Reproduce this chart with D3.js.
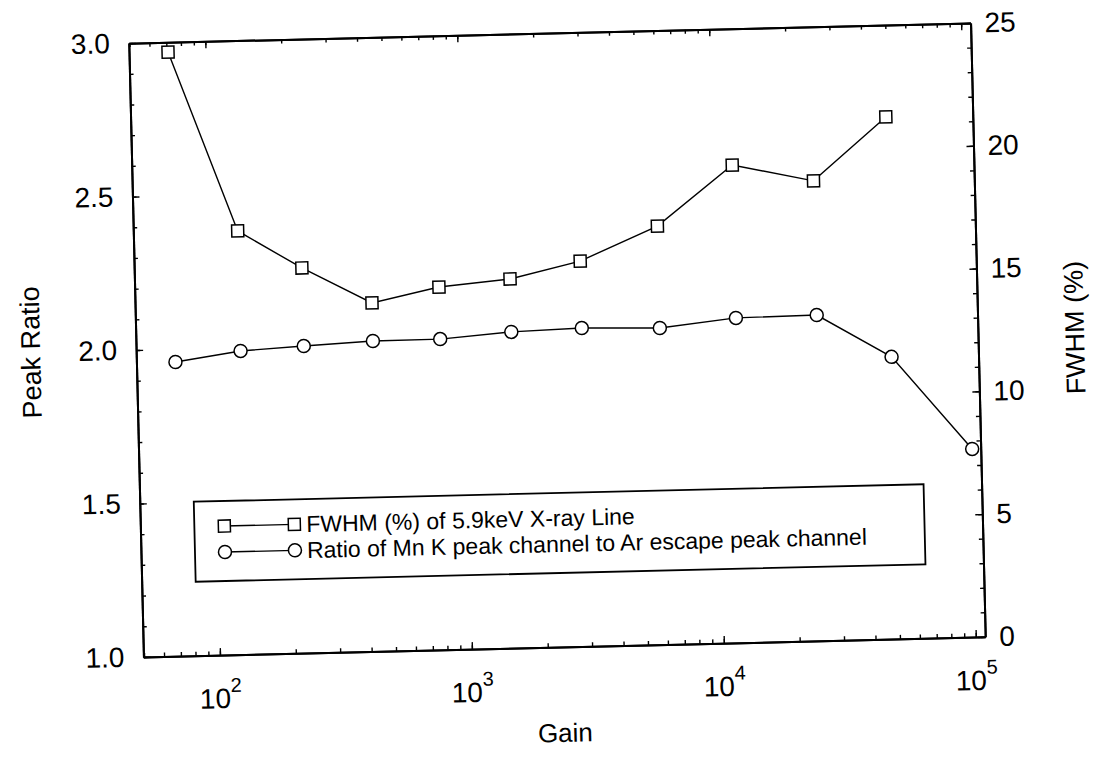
<!DOCTYPE html>
<meta charset="utf-8">
<style>
body { margin: 0; background: #fff; }
text { font-family: "Liberation Sans", Arial, sans-serif; fill: #000; }
.axis path, .axis line { stroke: #000; }
.axis path { stroke-width: 2px; }
.axis line { stroke-width: 1.4px; }
.series { fill: none; stroke: #000; stroke-width: 1.4px; }
.mark { fill: #fff; stroke: #000; stroke-width: 1.5px; }
</style>
<body>
<script src="https://d3js.org/d3.v7.min.js"></script>
<script>
// values
var gain  = [71, 129, 230, 433, 801, 1536, 2927, 5970, 11985, 25090, 49260, 100800];
var fwhm  = [24.6, 17.25, 15.68, 14.19, 14.77, 15.03, 15.69, 17.04, 19.45, 18.73, 21.26];
var ratio = [1.958, 1.989, 2.000, 2.011, 2.012, 2.030, 2.037, 2.031, 2.058, 2.061, 1.919, 1.613];

var decades     = [100, 1000, 10000, 100000];
var decadeExp   = ["2", "3", "4", "5"];
var ratioTicks  = [1.0, 1.5, 2.0, 2.5, 3.0];
var fwhmTicks   = [0, 5, 10, 15, 20, 25];

var legendLabels = ["FWHM (%) of 5.9keV X-ray Line", "Ratio of Mn K peak channel to Ar escape peak channel"];

var pLeft = 136, pRight = 978, pTop = 33, pBottom = 647;

var svg = d3.select("body").append("svg")
    .attr("width", 1099)
    .attr("height", 772);

// the scanned figure is slightly tilted
var g = svg.append("g").attr("transform", "rotate(-1.37,557,340)");

var x = d3.scaleLog().domain([49.7, 109000]).range([pLeft, pRight]);
var yL = d3.scaleLinear().domain([1, 3]).range([pBottom, pTop]);
var yR = d3.scaleLinear().domain([0, 25]).range([pBottom, pTop]);

// minor log ticks 2..9 per decade
var minorX = [];
for (var e = 1; e < 6; e++) {
  for (var m = 1; m < 10; m++) {
    var v = m * Math.pow(10, e);
    if (v >= x.domain()[0] && v <= x.domain()[1]) minorX.push(v);
  }
}
var minorL = d3.range(10, 31).map(function(d) { return d / 10; });
var minorR = d3.range(0, 26);

// x axes, bottom and top, ticks inward
g.append("g").attr("class", "axis")
  .attr("transform", "translate(0," + pBottom + ")")
  .call(d3.axisBottom(x).tickValues(minorX).tickSize(-4).tickSizeOuter(0).tickFormat(""));
g.append("g").attr("class", "axis")
  .attr("transform", "translate(0," + pBottom + ")")
  .call(d3.axisBottom(x).tickValues(decades).tickSize(-7).tickSizeOuter(0).tickFormat(""));
g.append("g").attr("class", "axis")
  .attr("transform", "translate(0," + pTop + ")")
  .call(d3.axisTop(x).tickValues(minorX).tickSize(-4).tickSizeOuter(0).tickFormat(""));
g.append("g").attr("class", "axis")
  .attr("transform", "translate(0," + pTop + ")")
  .call(d3.axisTop(x).tickValues(decades).tickSize(-7).tickSizeOuter(0).tickFormat(""));

// left axis
g.append("g").attr("class", "axis")
  .attr("transform", "translate(" + pLeft + ",0)")
  .call(d3.axisLeft(yL).tickValues(minorL).tickSize(-4).tickSizeOuter(0).tickFormat(""));
g.append("g").attr("class", "axis")
  .attr("transform", "translate(" + pLeft + ",0)")
  .call(d3.axisLeft(yL).tickValues(ratioTicks).tickSize(-7).tickSizeOuter(0).tickPadding(19).tickFormat(d3.format(".1f")))
  .selectAll("text").style("font-size", "28px");

// right axis
g.append("g").attr("class", "axis")
  .attr("transform", "translate(" + pRight + ",0)")
  .call(d3.axisRight(yR).tickValues(minorR).tickSize(-4).tickSizeOuter(0).tickFormat(""));
g.append("g").attr("class", "axis")
  .attr("transform", "translate(" + pRight + ",0)")
  .call(d3.axisRight(yR).tickValues(fwhmTicks).tickSize(-7).tickSizeOuter(0).tickPadding(14).tickFormat(d3.format("d")))
  .selectAll("text").style("font-size", "28px");

// 10^n labels
var xl = g.selectAll(".xlab")
  .data(decades)
  .enter()
  .append("text")
  .attr("class", "xlab")
  .attr("x", function(d) { return x(d); })
  .attr("y", 700)
  .attr("text-anchor", "middle");
xl.append("tspan").style("font-size", "28px").text("10");
xl.append("tspan").style("font-size", "20px").attr("dy", -16).text(function(d, i) { return decadeExp[i]; });

// axis titles
g.append("text")
  .attr("x", 556).attr("y", 742)
  .attr("text-anchor", "middle")
  .style("font-size", "26px")
  .text("Gain");
g.append("text")
  .attr("transform", "translate(40,340) rotate(-90)")
  .attr("text-anchor", "middle")
  .style("font-size", "27px")
  .text("Peak Ratio");
g.append("text")
  .attr("transform", "translate(1084,340) rotate(-90)")
  .attr("text-anchor", "middle")
  .style("font-size", "27px")
  .text("FWHM (%)");

// series
var fwhmData = fwhm.map(function(v, i) { return {g: gain[i], v: v}; });
var ratioData = ratio.map(function(v, i) { return {g: gain[i], v: v}; });

g.append("path")
  .datum(fwhmData)
  .attr("class", "series")
  .attr("d", d3.line().x(function(d) { return x(d.g); }).y(function(d) { return yR(d.v); }));
g.append("path")
  .datum(ratioData)
  .attr("class", "series")
  .attr("d", d3.line().x(function(d) { return x(d.g); }).y(function(d) { return yL(d.v); }));

g.selectAll(".sq")
  .data(fwhmData)
  .enter()
  .append("rect")
  .attr("class", "mark")
  .attr("x", function(d) { return x(d.g) - 6; })
  .attr("y", function(d) { return yR(d.v) - 6; })
  .attr("width", 12)
  .attr("height", 12);

g.selectAll(".ci")
  .data(ratioData)
  .enter()
  .append("circle")
  .attr("class", "mark")
  .attr("cx", function(d) { return x(d.g); })
  .attr("cy", function(d) { return yL(d.v); })
  .attr("r", 6.5);

// legend
var leg = g.append("g").attr("transform", "translate(190,493)");
leg.append("rect")
  .attr("width", 730).attr("height", 80)
  .attr("fill", "#fff").attr("stroke", "#000").attr("stroke-width", 1.8);

legendLabels.forEach(function(lab, i) {
  var ly = 25 + i * 26;
  leg.append("line")
    .attr("x1", 30).attr("x2", 100).attr("y1", ly).attr("y2", ly)
    .attr("stroke", "#000").attr("stroke-width", 1.3);
  [30, 100].forEach(function(mx) {
    if (i == 0) {
      leg.append("rect").attr("class", "mark")
        .attr("x", mx - 6).attr("y", ly - 6).attr("width", 12).attr("height", 12);
    } else {
      leg.append("circle").attr("class", "mark")
        .attr("cx", mx).attr("cy", ly).attr("r", 6.5);
    }
  });
  leg.append("text")
    .attr("x", 112).attr("y", ly + 8)
    .style("font-size", "23px")
    .text(lab);
});
</script>
</body>
